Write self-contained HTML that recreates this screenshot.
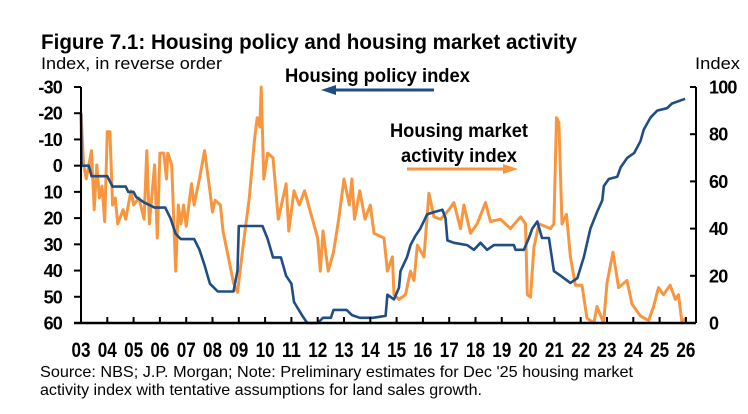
<!DOCTYPE html>
<html><head><meta charset="utf-8"><style>
html,body{margin:0;padding:0;background:#fff;}
svg{display:block;font-family:"Liberation Sans",Arial,sans-serif;}
</style></head><body>
<svg id="chart" width="748" height="414" viewBox="0 0 748 414">
<text x="41" y="49" font-size="21" font-weight="bold" textLength="536" lengthAdjust="spacingAndGlyphs">Figure 7.1: Housing policy and housing market activity</text>
<text x="41" y="69" font-size="17" textLength="181" lengthAdjust="spacingAndGlyphs">Index, in reverse order</text>
<text x="695" y="69" font-size="17" textLength="45" lengthAdjust="spacingAndGlyphs">Index</text>
<g id="plot"></g>
<text x="285" y="82" font-size="19" font-weight="bold" textLength="185" lengthAdjust="spacingAndGlyphs">Housing policy index</text>
<g>
<line x1="434" y1="90" x2="332" y2="90" stroke="#1f4e85" stroke-width="3"/>
<polygon points="321,90 336,85 336,95" fill="#1f4e85"/>
</g>
<text x="390" y="137" font-size="19" font-weight="bold" textLength="138" lengthAdjust="spacingAndGlyphs">Housing market</text>
<text x="401" y="162" font-size="19" font-weight="bold" textLength="116" lengthAdjust="spacingAndGlyphs">activity index</text>
<g>
<line x1="407" y1="169" x2="507" y2="169" stroke="#f7963f" stroke-width="3"/>
<polygon points="518,169 503,164 503,174" fill="#f7963f"/>
</g>
<text x="40" y="377" font-size="16" textLength="593" lengthAdjust="spacingAndGlyphs">Source: NBS; J.P. Morgan; Note: Preliminary estimates for Dec '25 housing market</text>
<text x="40" y="395" font-size="16" textLength="442" lengthAdjust="spacingAndGlyphs">activity index with tentative assumptions for land sales growth.</text>
</svg>
<script>
const yearTicks = ["03","04","05","06","07","08","09","10","11","12","13","14","15","16","17","18","19","20","21","22","23","24","25","26"];
const leftTicks = [-30,-20,-10,0,10,20,30,40,50,60];
const rightTicks = [0,20,40,60,80,100];
const policyDates = [2003.0,2003.02,2003.3,2003.4,2004.0,2004.2,2004.7,2004.8,2005.0,2005.1,2005.4,2005.8,2006.2,2006.4,2006.6,2006.8,2007.3,2007.5,2007.7,2007.9,2008.2,2008.8,2008.95,2009.0,2009.9,2010.1,2010.3,2010.6,2010.8,2011.0,2011.1,2011.4,2011.6,2012.0,2012.2,2012.5,2012.6,2013.1,2013.3,2013.6,2014.1,2014.58,2014.65,2014.9,2015.09,2015.15,2015.4,2015.53,2015.72,2015.9,2016.16,2016.42,2016.74,2016.86,2016.93,2017.18,2017.68,2017.94,2018.19,2018.44,2018.7,2019.46,2019.52,2019.84,2020.03,2020.16,2020.35,2020.53,2020.79,2020.98,2021.24,2021.61,2021.87,2022.12,2022.37,2022.62,2022.82,2022.88,2023.07,2023.39,2023.52,2023.77,2024.03,2024.27,2024.4,2024.65,2024.91,2025.28,2025.47,2025.97];
const policyValues = [-20,0,0,4,4,8,8,10,10,12,14,16,16,20,26,28,28,32,38,45,48,48,40,23,23,28,35,35,42,45,52,57,60,60,58,58,55,55,57,58,58,57.3,49.2,51,46.5,40.2,34.8,30.3,26.7,24,18.6,17.7,16.8,20,28.5,29.4,30.3,32.1,29.4,32.1,30.3,30.3,32.1,32.1,27.6,24,21.3,27.6,27.6,40.2,42,44.7,42.9,34.8,24,17.7,13.2,7.8,5.1,4.2,0.6,-3,-4.8,-9.3,-13.8,-18.3,-21,-21.9,-23.7,-25.5];
const marketDates = [2003.0,2003.1,2003.2,2003.4,2003.5,2003.6,2003.7,2003.8,2003.9,2004.0,2004.1,2004.2,2004.3,2004.4,2004.6,2004.7,2004.9,2005.0,2005.2,2005.4,2005.5,2005.6,2005.8,2005.9,2006.0,2006.15,2006.25,2006.3,2006.45,2006.6,2006.7,2006.8,2006.9,2007.0,2007.2,2007.3,2007.5,2007.7,2007.9,2008.0,2008.1,2008.3,2008.4,2008.6,2008.8,2008.95,2009.2,2009.4,2009.6,2009.7,2009.8,2009.85,2009.95,2010.1,2010.3,2010.5,2010.8,2010.9,2011.1,2011.3,2011.5,2011.8,2012.0,2012.1,2012.2,2012.4,2012.6,2012.8,2013.0,2013.2,2013.3,2013.4,2013.6,2013.8,2014.0,2014.14,2014.52,2014.65,2014.84,2014.9,2015.09,2015.34,2015.53,2015.66,2015.79,2016.04,2016.23,2016.42,2016.67,2016.99,2017.18,2017.43,2017.56,2017.81,2018.06,2018.38,2018.57,2018.95,2019.33,2019.71,2019.9,2019.97,2020.09,2020.22,2020.41,2020.85,2020.98,2021.08,2021.17,2021.29,2021.46,2021.61,2021.8,2022.05,2022.24,2022.5,2022.62,2022.87,2023.0,2023.23,2023.44,2023.76,2023.95,2024.27,2024.58,2024.77,2024.96,2025.15,2025.4,2025.6,2025.72,2025.85,2025.97];
const marketValues = [89,67,61,73,48,67,53,58,43,81,81,50,53,42,48,44,56,50,53,44,73,42,67,36,72,72,61,72,67,22,50,42,50,41,59,50,61,73,56,47,52,50,39,28,17,13,36,53,78,87,83,100,61,72,70,44,59,39,56,50,56,44,36,22,39,22,30,44,61,50,61,44,56,44,50,38,36,22,28,12,10,12,22,18,33,28,55,45,44,48,51,40,50,38,42,51,43,44,40,45,42,12,11,32,42,40,42,87,85,42,46,28,16,16,2,0,7,0,17,30,15,18,8,3,1,7,15,12,16,10,12,0,2];

const NS='http://www.w3.org/2000/svg';
const plot=document.getElementById('plot');
const X0=81, PX_PER_YEAR=26.3, XR=696, YT=87, YB=323;
function xScale(yr){return X0+(yr-2003)*PX_PER_YEAR;}
function yLeft(v){return YT+(v+30)/90*(YB-YT);}
function yRight(v){return YB-v/100*(YB-YT);}
function mk(tag,attrs){const e=document.createElementNS(NS,tag);for(const k in attrs)e.setAttribute(k,attrs[k]);plot.appendChild(e);return e;}

let d='';
marketDates.forEach((t,i)=>{d+=(i?'L':'M')+xScale(t).toFixed(1)+','+yRight(marketValues[i]).toFixed(1);});
const m=mk('path',{d:d,fill:'none',stroke:'#f7963f','stroke-width':3,'stroke-linejoin':'round'});



d='';
policyDates.forEach((t,i)=>{d+=(i?'L':'M')+xScale(t).toFixed(1)+','+yLeft(policyValues[i]).toFixed(1);});
const p=mk('path',{d:d,fill:'none',stroke:'#1f4e85','stroke-width':2.6,'stroke-linejoin':'round'});



const la=mk('line',{x1:X0,y1:YT,x2:X0,y2:YB,stroke:'#000','stroke-width':2});


const ra=mk('line',{x1:XR,y1:YT,x2:XR,y2:YB,stroke:'#000','stroke-width':2});


const ba=mk('line',{x1:X0-7,y1:YB,x2:XR,y2:YB,stroke:'#000','stroke-width':2.5});



leftTicks.forEach(v=>{
  const y=yLeft(v);
  mk('line',{x1:X0-7,y1:y,x2:X0,y2:y,stroke:'#000','stroke-width':2});
  const t=mk('text',{x:62,y:y+6.5,'font-size':18,'font-weight':'bold','text-anchor':'end','letter-spacing':'-0.8'});
  t.textContent=v;
  
  
});
rightTicks.forEach(v=>{
  const y=yRight(v);
  mk('line',{x1:XR-6,y1:y,x2:XR,y2:y,stroke:'#000','stroke-width':2});
  const t=mk('text',{x:709,y:y+6.5,'font-size':18,'font-weight':'bold','letter-spacing':'-0.8'});
  t.textContent=v;
  
  
});
yearTicks.forEach((lab,i)=>{
  const x=xScale(2003+i);
  mk('line',{x1:x,y1:YB-6,x2:x,y2:YB,stroke:'#000','stroke-width':2});
  const t=mk('text',{x:x-9.5,y:357,'font-size':21,'font-weight':'bold',textLength:19,lengthAdjust:'spacingAndGlyphs'});
  t.textContent=lab;
  
  
});
</script>
</body></html>
